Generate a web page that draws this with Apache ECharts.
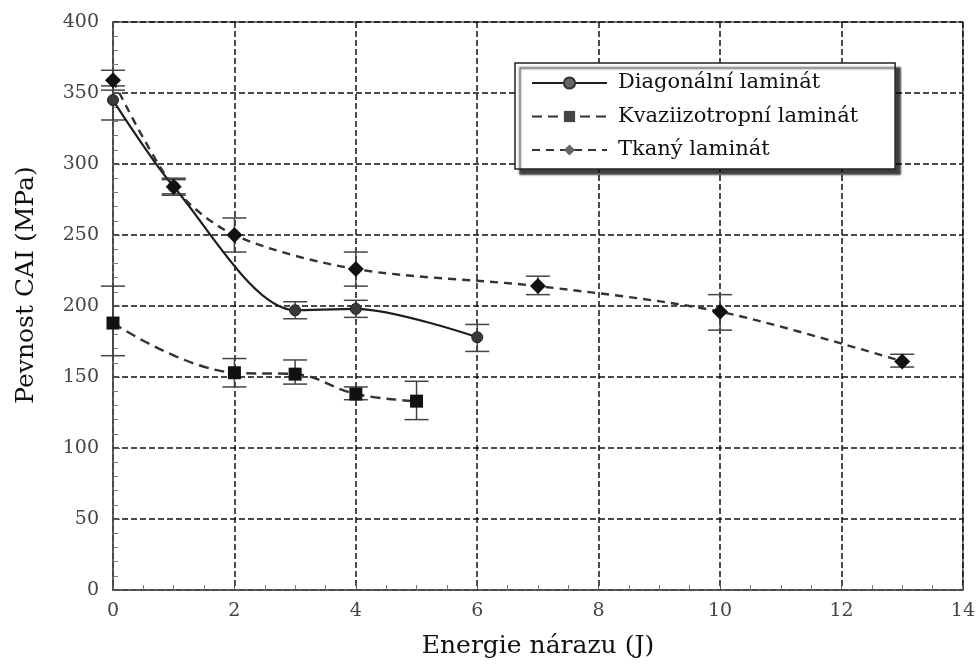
<!DOCTYPE html>
<html>
<head>
<meta charset="utf-8">
<script src="https://cdn.jsdelivr.net/npm/echarts@6/dist/echarts.min.js"></script>
<style>
  html, body { margin: 0; padding: 0; background: #fff; }
  #chart { width: 978px; height: 664px; }
</style>
</head>
<body>
<div id="chart"></div>
<script>
// Energy (J) and CAI strength (MPa) per laminate type
const diagX = [0, 1, 3, 4, 6]
const diagY = [345, 284, 197, 198, 178]
const diagLow = [331, 278, 191, 192, 168]
const diagHigh = [355, 290, 203, 204, 187]

const kvaziX = [0, 2, 3, 4, 5]
const kvaziY = [188, 153, 152, 138, 133]
const kvaziLow = [165, 143, 145, 134, 120]
const kvaziHigh = [214, 163, 162, 143, 147]

const tkanyX = [0, 1, 2, 4, 7, 10, 13]
const tkanyY = [359, 284, 250, 226, 214, 196, 161]
const tkanyLow = [352, 279, 238, 214, 208, 183, 157]
const tkanyHigh = [366, 289, 262, 238, 221, 208, 166]

const names = ['Diagonální laminát', 'Kvaziizotropní laminát', 'Tkaný laminát']

const font = '"DejaVu Serif", "Liberation Serif", serif'
const ink = '#1e1e1e'

function pairs(xs, ys) {
  return xs.map((x, i) => [x, ys[i]])
}
function bars(xs, lo, hi) {
  return xs.map((x, i) => [x, lo[i], hi[i]])
}

// vertical error bar with caps
function errorBar(params, api) {
  const top = api.coord([api.value(0), api.value(2)])
  const bot = api.coord([api.value(0), api.value(1)])
  const half = 12
  const style = { stroke: '#444', lineWidth: 1.5 }
  return {
    type: 'group',
    children: [
      { type: 'line', shape: { x1: top[0], y1: top[1], x2: bot[0], y2: bot[1] }, style },
      { type: 'line', shape: { x1: top[0] - half, y1: top[1], x2: top[0] + half, y2: top[1] }, style },
      { type: 'line', shape: { x1: bot[0] - half, y1: bot[1], x2: bot[0] + half, y2: bot[1] }, style },
    ],
  }
}

const chart = echarts.init(document.getElementById('chart'))

const gridLine = { show: true, lineStyle: { color: '#111', type: [6, 3], width: 1.5 } }

chart.setOption({
  animation: false,
  backgroundColor: '#fff',
  textStyle: { fontFamily: font },
  grid: {
    left: 113, right: 15, top: 22, bottom: 72,
    show: true, borderColor: '#555', borderWidth: 1.5, backgroundColor: 'transparent',
  },
  legend: {
    data: [
      { name: names[0], itemStyle: { color: '#666', borderColor: '#333' } },
      { name: names[1], itemStyle: { color: '#444' } },
      { name: names[2], itemStyle: { color: '#666' } },
    ],
    left: 515, top: 63,
    orient: 'vertical',
    itemWidth: 75, itemHeight: 14, itemGap: 11.5,
    padding: [9, 37, 8, 16],
    backgroundColor: '#fff',
    borderColor: '#222', borderWidth: 1.5,
    shadowColor: 'rgba(0,0,0,0.75)', shadowOffsetX: 5, shadowOffsetY: 5, shadowBlur: 2,
    textStyle: { fontFamily: font, fontSize: 21, lineHeight: 22, color: '#111', padding: [0, 0, 0, 6] },
  },
  xAxis: {
    type: 'value', min: 0, max: 14, interval: 2,
    name: 'Energie nárazu (J)', nameLocation: 'middle', nameGap: 44,
    nameTextStyle: { fontFamily: font, fontSize: 25, color: '#111' },
    axisLine: { lineStyle: { color: '#555', width: 1.5 } },
    axisTick: { inside: true, length: 7, lineStyle: { color: '#555' } },
    minorTick: { show: true, splitNumber: 4, length: 5, lineStyle: { color: '#777' } },
    axisLabel: { fontFamily: font, fontSize: 19, color: '#444', margin: 12 },
    splitLine: gridLine,
  },
  yAxis: {
    type: 'value', min: 0, max: 400, interval: 50,
    name: 'Pevnost CAI (MPa)', nameLocation: 'middle', nameGap: 74,
    nameTextStyle: { fontFamily: font, fontSize: 25, color: '#111', padding: [0, 0, 0, 42] },
    axisLine: { lineStyle: { color: '#555', width: 1.5 } },
    axisTick: { inside: true, length: 7, lineStyle: { color: '#555' } },
    minorTick: { show: true, splitNumber: 5, length: 5, lineStyle: { color: '#777' } },
    axisLabel: { fontFamily: font, fontSize: 19, color: '#444', margin: 14 },
    splitLine: gridLine,
  },
  series: [
    {
      name: names[0], type: 'line', smooth: 0.3,
      data: pairs(diagX, diagY),
      symbol: 'circle', symbolSize: 11,
      lineStyle: { color: ink, width: 2.2, type: 'solid' },
      itemStyle: { color: '#3a3a3a', borderColor: '#222', borderWidth: 1 },
      z: 4,
    },
    {
      name: names[1], type: 'line', smooth: 0.4,
      data: pairs(kvaziX, kvaziY),
      symbol: 'rect', symbolSize: 13,
      lineStyle: { color: '#333', width: 2.4, type: [10, 6] },
      itemStyle: { color: '#111' },
      z: 4,
    },
    {
      name: names[2], type: 'line', smooth: 0.3,
      data: pairs(tkanyX, tkanyY),
      symbol: 'diamond', symbolSize: 16,
      lineStyle: { color: '#333', width: 2.4, type: [8, 6] },
      itemStyle: { color: '#111' },
      z: 4,
    },
    { type: 'custom', renderItem: errorBar, data: bars(diagX, diagLow, diagHigh), z: 3, silent: true },
    { type: 'custom', renderItem: errorBar, data: bars(kvaziX, kvaziLow, kvaziHigh), z: 3, silent: true },
    { type: 'custom', renderItem: errorBar, data: bars(tkanyX, tkanyLow, tkanyHigh), z: 3, silent: true },
  ],
})
</script>
</body>
</html>
